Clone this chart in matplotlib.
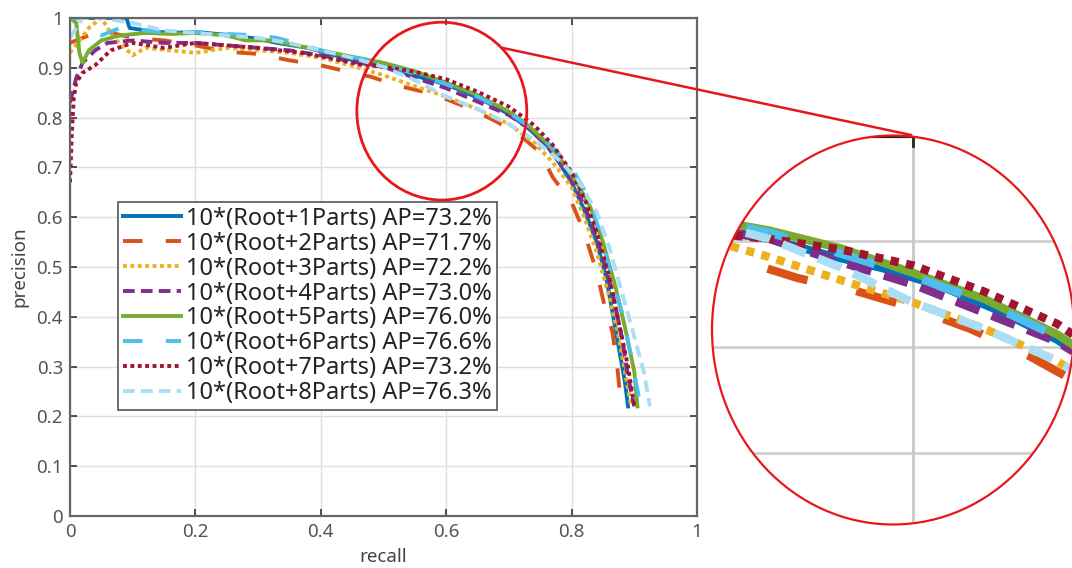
import matplotlib
matplotlib.use("Agg")
import matplotlib.pyplot as plt
from matplotlib.patches import Ellipse
from matplotlib.lines import Line2D

plt.rcParams["font.family"] = ["Noto Sans", "DejaVu Sans"]

# PR curves, values
labels = [
    "10*(Root+1Parts) AP=73.2%",
    "10*(Root+2Parts) AP=71.7%",
    "10*(Root+3Parts) AP=72.2%",
    "10*(Root+4Parts) AP=73.0%",
    "10*(Root+5Parts) AP=76.0%",
    "10*(Root+6Parts) AP=76.6%",
    "10*(Root+7Parts) AP=73.2%",
    "10*(Root+8Parts) AP=76.3%",
]

r1 = [0, 0.09, 0.095, 0.12, 0.16, 0.2, 0.26, 0.3, 0.33, 0.38, 0.42, 0.46, 0.5, 0.54, 0.58,
      0.62, 0.66, 0.7, 0.73, 0.76, 0.78, 0.8, 0.82, 0.84, 0.855, 0.865, 0.875, 0.885, 0.89]
p1 = [1.0, 1.0, 0.98, 0.975, 0.97, 0.972, 0.965, 0.958, 0.95, 0.94, 0.926, 0.912, 0.902, 0.887, 0.874,
      0.857, 0.834, 0.807, 0.78, 0.745, 0.71, 0.67, 0.615, 0.55, 0.48, 0.41, 0.34, 0.27, 0.22]

r2 = [0.0, 0.02, 0.05, 0.1, 0.15, 0.2, 0.25, 0.3, 0.35, 0.4, 0.44, 0.48, 0.52, 0.56, 0.6, 0.64,
      0.68, 0.72, 0.75, 0.77, 0.8, 0.82, 0.84, 0.853, 0.865, 0.872, 0.876, 0.88]
p2 = [0.95, 0.96, 0.975, 0.96, 0.955, 0.945, 0.932, 0.928, 0.915, 0.905, 0.893, 0.882, 0.865, 0.853,
      0.837, 0.817, 0.792, 0.762, 0.73, 0.68, 0.63, 0.57, 0.49, 0.42, 0.37, 0.31, 0.26, 0.22]

r3 = [0.0, 0.03, 0.05, 0.07, 0.1, 0.12, 0.16, 0.2, 0.25, 0.3, 0.35, 0.4, 0.45, 0.5, 0.55, 0.6,
      0.65, 0.7, 0.74, 0.77, 0.8, 0.82, 0.84, 0.86, 0.875, 0.885, 0.895]
p3 = [0.93, 0.98, 1.0, 0.96, 0.925, 0.94, 0.935, 0.93, 0.94, 0.935, 0.93, 0.92, 0.904, 0.885, 0.863,
      0.842, 0.817, 0.787, 0.75, 0.71, 0.66, 0.6, 0.53, 0.44, 0.36, 0.29, 0.22]

r4 = [0.0, 0.01, 0.02, 0.04, 0.06, 0.1, 0.15, 0.2, 0.25, 0.3, 0.35, 0.4, 0.45, 0.5, 0.55, 0.6,
      0.65, 0.7, 0.73, 0.76, 0.79, 0.81, 0.83, 0.85, 0.865, 0.88, 0.89, 0.9]
p4 = [0.83, 0.88, 0.91, 0.935, 0.95, 0.955, 0.95, 0.95, 0.945, 0.94, 0.935, 0.925, 0.912, 0.902, 0.88,
      0.859, 0.832, 0.805, 0.78, 0.745, 0.695, 0.65, 0.595, 0.52, 0.45, 0.36, 0.28, 0.22]

r5 = [0.0, 0.01, 0.015, 0.02, 0.03, 0.05, 0.08, 0.12, 0.16, 0.2, 0.25, 0.28, 0.32, 0.36, 0.4,
      0.45, 0.5, 0.55, 0.6, 0.65, 0.7, 0.73, 0.76, 0.79, 0.81, 0.83, 0.85, 0.87, 0.885, 0.9, 0.905]
p5 = [1.0, 0.99, 0.93, 0.91, 0.935, 0.955, 0.965, 0.97, 0.968, 0.97, 0.965, 0.955, 0.955, 0.945,
      0.935, 0.922, 0.91, 0.893, 0.87, 0.845, 0.812, 0.785, 0.75, 0.705, 0.665, 0.62, 0.55, 0.46,
      0.38, 0.29, 0.22]

r6 = [0.0, 0.03, 0.035, 0.05, 0.08, 0.12, 0.16, 0.2, 0.25, 0.3, 0.33, 0.36, 0.4, 0.45, 0.5, 0.55,
      0.6, 0.65, 0.7, 0.74, 0.77, 0.8, 0.82, 0.84, 0.86, 0.88, 0.895, 0.91]
p6 = [1.0, 1.0, 0.97, 0.965, 0.98, 0.975, 0.97, 0.972, 0.968, 0.965, 0.96, 0.95, 0.935, 0.922,
      0.908, 0.888, 0.867, 0.842, 0.81, 0.775, 0.74, 0.7, 0.655, 0.59, 0.5, 0.41, 0.32, 0.22]

r7 = [0.0, 0.003, 0.006, 0.01, 0.02, 0.04, 0.065, 0.1, 0.15, 0.2, 0.25, 0.3, 0.37, 0.42, 0.46,
      0.5, 0.55, 0.6, 0.65, 0.7, 0.74, 0.77, 0.8, 0.82, 0.84, 0.86, 0.875, 0.89, 0.9]
p7 = [0.67, 0.77, 0.84, 0.87, 0.89, 0.905, 0.935, 0.95, 0.94, 0.95, 0.945, 0.94, 0.93, 0.918,
      0.907, 0.902, 0.892, 0.877, 0.852, 0.822, 0.785, 0.745, 0.69, 0.64, 0.57, 0.48, 0.39, 0.3, 0.22]

r8 = [0.0, 0.02, 0.05, 0.1, 0.15, 0.2, 0.25, 0.3, 0.35, 0.4, 0.45, 0.5, 0.55, 0.6, 0.65, 0.7,
      0.74, 0.78, 0.81, 0.84, 0.86, 0.88, 0.9, 0.915, 0.925]
p8 = [0.96, 1.0, 1.0, 0.99, 0.975, 0.97, 0.965, 0.96, 0.95, 0.935, 0.92, 0.902, 0.875, 0.842,
      0.817, 0.787, 0.755, 0.715, 0.675, 0.61, 0.54, 0.45, 0.36, 0.29, 0.22]

recalls = [r1, r2, r3, r4, r5, r6, r7, r8]
precisions = [p1, p2, p3, p4, p5, p6, p7, p8]

colors = ["#0072BD", "#D95319", "#EDB120", "#7E2F8E",
          "#77AC30", "#4DBEEE", "#A2142F", "#A9DEF5"]
styles = ["-", (0, (5, 6)), (0, (1, 0.9)), (0, (3, 1.6)),
          "-", (0, (5, 6)), (0, (1, 0.9)), (0, (3, 1.6))]

W, H = 1072, 568
fig = plt.figure(figsize=(W / 100, H / 100), dpi=100)

# main axes
ax = fig.add_axes([70 / W, 1 - 516 / H, 627 / W, 498 / H])
for r, p, c, ls, lab in zip(recalls, precisions, colors, styles, labels):
    ax.plot(r, p, color=c, linestyle=ls, linewidth=2.8, label=lab)

ax.set_xlim(0, 1)
ax.set_ylim(0, 1)
ax.set_xticks([0, 0.2, 0.4, 0.6, 0.8, 1])
ax.set_xticklabels(["0", "0.2", "0.4", "0.6", "0.8", "1"])
ax.set_yticks([i / 10 for i in range(11)])
ax.set_yticklabels(["0", "0.1", "0.2", "0.3", "0.4", "0.5", "0.6", "0.7", "0.8", "0.9", "1"])
ax.grid(True, color="#dedede", linewidth=1)
ax.set_axisbelow(True)
ax.tick_params(direction="in", length=5, width=1.2, top=True, right=True, labelsize=13.5,
               colors="#333333", labelcolor="#555555", pad=5)
for s in ax.spines.values():
    s.set_color("#666666")
    s.set_linewidth(1.6)
ax.set_xlabel("recall", fontsize=13.5, color="#444444", labelpad=5)
ax.set_ylabel("precision", fontsize=13.5, color="#444444", labelpad=6)

leg = ax.legend(loc="upper left", bbox_to_anchor=(48 / 627, 314 / 498), borderaxespad=0,
                fontsize=17, handlelength=2.45, handletextpad=0.25, labelspacing=0.04,
                borderpad=0.2, fancybox=False, framealpha=1, edgecolor="#555555")
leg.get_frame().set_linewidth(1.2)
for t in leg.get_texts():
    t.set_color("#222222")

# small circle on the main plot
ax.add_patch(Ellipse((0.593, 0.813), 0.271, 0.357, fill=False, edgecolor="#E8171B",
                     linewidth=2, clip_on=False, zorder=5))

# magnified view
ins = fig.add_axes([712 / W, 1 - 524 / H, 363 / W, 389 / H])
ins.set_xlim(0.6 - 201 / 1440, 0.6 + 162 / 1440)
ins.set_ylim(1.0 - 389 / 1060, 1.0)
ins.axis("off")
clip = Ellipse((0.5, 0.5), 1.0, 1.0, transform=ins.transAxes, facecolor="none",
               edgecolor="none")
ins.add_patch(clip)
grid_lines = [ins.axhline(y, color="#d0d0d0", linewidth=2) for y in (0.7, 0.8, 0.9)]
grid_lines.append(ins.axvline(0.6, color="#c8c8c8", linewidth=2))
grid_lines.append(ins.axhline(0.999, color="#222222", linewidth=3))
grid_lines += ins.plot([0.6, 0.6], [1.0, 0.99], color="#222222", linewidth=2)
for gl in grid_lines:
    gl.set_clip_path(clip)
for r, p, c, ls in zip(recalls, precisions, colors, styles):
    ln, = ins.plot(r, p, color=c, linestyle=ls, linewidth=6)
    ln.set_clip_path(clip)

fig.add_artist(Ellipse((893 / W, 1 - 330 / H), 362 / W, 389 / H, transform=fig.transFigure,
                       fill=False, edgecolor="#E8171B", linewidth=1.6))
fig.add_artist(Line2D([503 / W, 911 / W], [1 - 48 / H, 1 - 135 / H], transform=fig.transFigure,
                      color="#E8171B", linewidth=1.8))

fig.savefig("out.png", dpi=100)
